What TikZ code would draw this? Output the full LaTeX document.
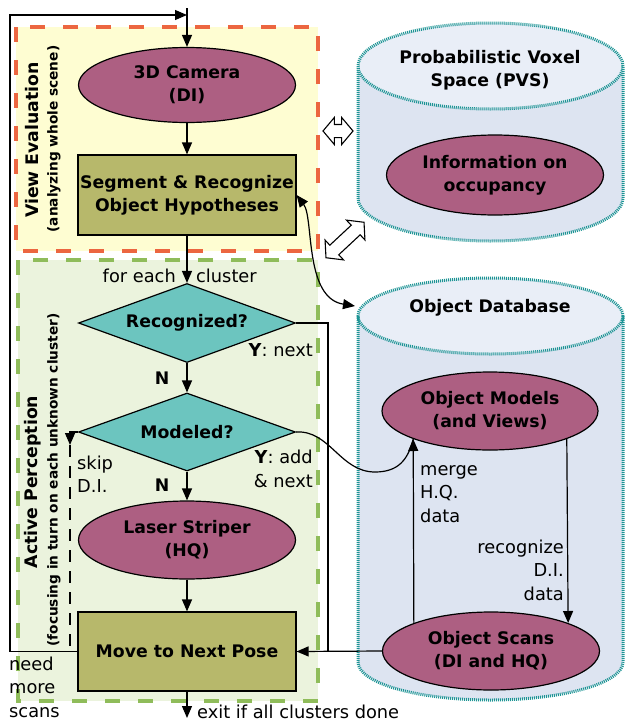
\documentclass[tikz,border=0pt]{standalone}
\usepackage{fontspec}
\setmainfont{DejaVu Sans}
\usetikzlibrary{shapes.geometric,shapes.arrows,arrows.meta}
\definecolor{mauve}{HTML}{AD5F82}
\definecolor{olivebox}{HTML}{B7B86B}
\definecolor{tealfill}{HTML}{6CC5BF}
\definecolor{yellowbg}{HTML}{FEFDD2}
\definecolor{orangedash}{HTML}{EC6640}
\definecolor{greenbg}{HTML}{EBF3DD}
\definecolor{greendash}{HTML}{8FBC5A}
\definecolor{cylbody}{HTML}{DDE4F1}
\definecolor{cyltop}{HTML}{E9EEF7}
\definecolor{cylborder}{HTML}{1C9494}
\tikzset{
  bx/.style={font=\fontsize{17.3}{23}\selectfont\bfseries, align=center, inner sep=0pt, draw=black, line width=1.2pt, text=black},
  ell/.style={bx, ellipse, fill=mauve, minimum width=217pt, minimum height=77pt},
  rectbox/.style={bx, rectangle, fill=olivebox, minimum width=218pt, minimum height=80pt},
  dia/.style={bx, diamond, aspect=2.75, fill=tealfill, minimum width=217pt, minimum height=79pt},
  lbl/.style={font=\fontsize{17.8}{23.5}\selectfont, inner sep=0pt},
  blbl/.style={font=\fontsize{17.3}{23}\selectfont\bfseries, inner sep=0pt},
  slbl/.style={font=\fontsize{13.7}{16}\selectfont\bfseries, inner sep=0pt},
  conn/.style={line width=1.2pt},
  arr/.style={line width=1.2pt, -{Triangle[length=12pt,width=10pt]}},
  hollow/.style={double arrow, draw=black, fill=white, line width=1.1pt, inner sep=6pt,
    minimum width=26pt, double arrow head extend=7pt, double arrow tip angle=100},
  cylline/.style={cylborder, line width=3pt, dash pattern=on 1pt off 1pt},
}
\begin{document}
\begin{tikzpicture}[x=1pt,y=-1pt]
\useasboundingbox (0,0) rectangle (624,723);

% background panels
\fill[yellowbg] (16,27) rectangle (318,251);
\draw[orangedash, line width=4pt, dash pattern=on 15pt off 18pt] (16,27) rectangle (318,251);
\fill[greenbg] (18,260) rectangle (318,701);
\draw[greendash, line width=4pt, dash pattern=on 15pt off 18pt] (18,260) rectangle (318,701);

% cylinders
\fill[cylbody] (358,66) -- (358,198) arc[start angle=180,end angle=360,x radius=132.5pt,y radius=43pt] -- (623,66) -- cycle;
\fill[cyltop] (490.5,66) ellipse[x radius=132.5pt,y radius=43pt];
\draw[cylline] (490.5,66) ellipse[x radius=132.5pt,y radius=43pt]
  (358,66) -- (358,198) arc[start angle=180,end angle=360,x radius=132.5pt,y radius=43pt] -- (623,66);

\fill[cylbody] (358,316) -- (358,662) arc[start angle=180,end angle=360,x radius=132.5pt,y radius=38pt] -- (623,316) -- cycle;
\fill[cyltop] (490.5,316) ellipse[x radius=132.5pt,y radius=38pt];
\draw[cylline] (490.5,316) ellipse[x radius=132.5pt,y radius=38pt]
  (358,316) -- (358,662) arc[start angle=180,end angle=360,x radius=132.5pt,y radius=38pt] -- (623,316);

\node[blbl, align=center] (pvs) at (490,70) {Probabilistic Voxel\\Space (PVS)};
\node[blbl] (odb) at (490,308) {Object Database};

% rotated panel titles
\node[blbl, rotate=90] (ve) at (32,140) {View Evaluation};
\node[slbl, rotate=90] (ves) at (54,139) {(analyzing whole scene)};
\node[blbl, rotate=90] (ap) at (33,482) {Active Perception};
\node[slbl, rotate=90] (aps) at (54,480) {(focusing in turn on each unknown cluster)};

% main nodes
\node[ell, minimum height=75pt] (cam) at (187,85) {3D Camera\\(DI)};
\node[rectbox] (seg) at (187,195) {Segment \& Recognize\\Object Hypotheses};
\node[dia] (rec) at (187,323) {Recognized?};
\node[dia, minimum height=78pt] (mod) at (187,432) {Modeled?};
\node[ell, minimum height=78pt] (laser) at (187,540) {Laser Striper\\(HQ)};
\node[rectbox, minimum height=79pt] (move) at (187,651.5) {Move to Next Pose};

\node[ell, minimum height=80pt] (info) at (495,175) {Information on\\occupancy};
\node[ell, minimum width=216pt, minimum height=78pt] (models) at (490,411) {Object Models\\(and Views)};
\node[ell, minimum height=78pt] (scans) at (491,651) {Object Scans\\(DI and HQ)};

% hollow double arrows
\node[hollow, minimum height=30pt] (da1) at (338,131) {};
\node[hollow, minimum height=52pt, rotate=43] (da2) at (345,240) {};

% coordinates
\coordinate (top) at (187,8);
\coordinate (loopend) at (187,15);
\coordinate (loopbl) at (10,651.5);
\coordinate (looptl) at (10,15);
\coordinate (join) at (328,651.5);
\coordinate (skipend) at (70,445);
\coordinate (skipbot) at (70,651.5);
\coordinate (exit) at (187,718);
\coordinate (dbin) at (355,306);

% connectors
\draw[arr] (top) -- (cam.north);
\draw[arr] (move.west) -- (loopbl) -- (looptl) -- (loopend);
\draw[arr] (cam.south) -- (seg.north);
\draw[arr] (seg.south) -- (rec.north);
\draw[arr] (rec.south) -- (mod.north);
\draw[arr] (mod.south) -- (laser.north);
\draw[arr] (laser.south) -- (move.north);
\draw[arr] (move.south) -- (exit);
\draw[arr] (scans.west) -- (move.east);
\draw[conn] (rec.east) -| (join);
\draw[arr] (mod.west) -| (skipend);
\draw[conn, dash pattern=on 12pt off 9pt] (skipend) -- (skipbot);
\draw[conn] (mod.east) .. controls (330,430) and (340,472) .. (375,472) .. controls (398,472) and (408,460) .. (models.south west);
\draw[arr] (scans.north west) -- (models.south west);
\draw[arr] (models.south east) -- (scans.north east);
\draw[line width=1.2pt, {Triangle[length=12pt,width=10pt]}-{Triangle[length=12pt,width=10pt]}] (seg.east) .. controls (314,218) and (304,298) .. (dbin);

% labels
\node[lbl, anchor=east] (fe) at (176,276) {for each};
\node[lbl, anchor=west] (cl) at (196,276) {cluster};
\node[lbl, anchor=east] (yn) at (313,350) {\textbf{Y}: next};
\node[lbl, anchor=east, align=right] (ya) at (313,469) {\textbf{Y}: add\\\& next};
\node[blbl] (n1) at (162,378) {N};
\node[blbl] (n2) at (162,485) {N};
\node[lbl, anchor=west, align=left] (skip) at (77,474) {skip\\D.I.};
\node[lbl, anchor=west, align=left] (need) at (9,687) {need\\more\\scans};
\node[lbl, anchor=west] (ex) at (197,712) {exit if all clusters done};
\node[lbl, anchor=west, align=left] (merge) at (420,494) {merge\\H.Q.\\data};
\node[lbl, anchor=east, align=right] (recog) at (564,570) {recognize\\D.I.\\data};
\end{tikzpicture}
\end{document}
